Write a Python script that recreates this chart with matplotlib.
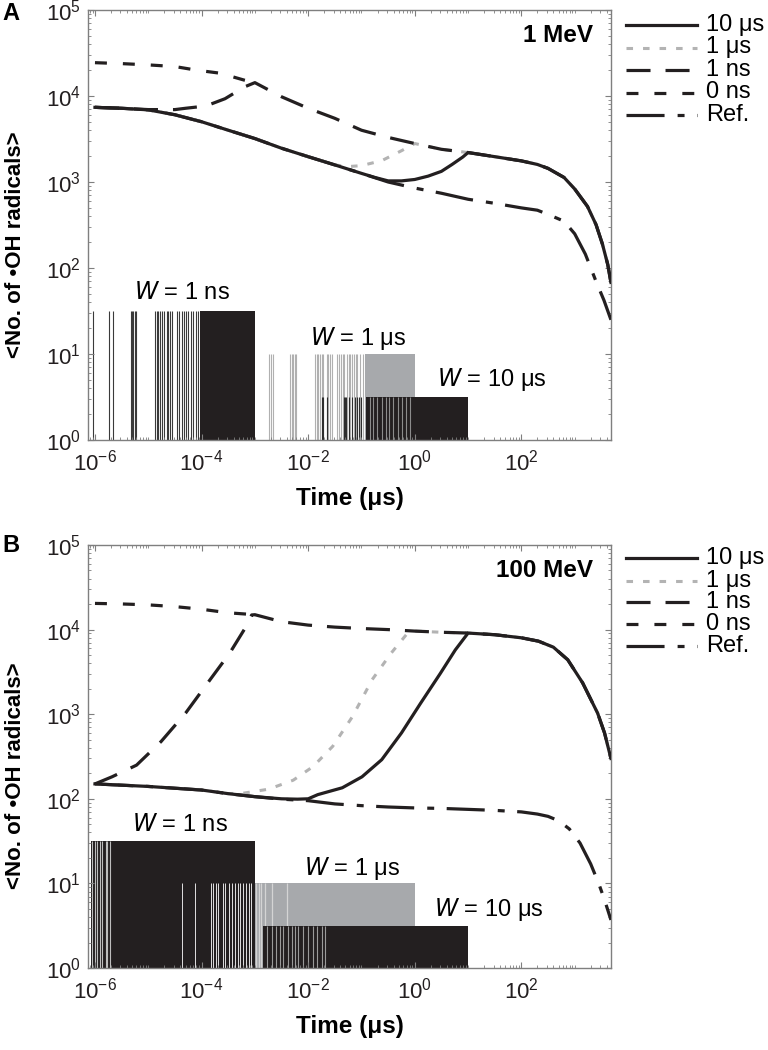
import numpy as np
import matplotlib
matplotlib.use('Agg')
import matplotlib.pyplot as plt
from matplotlib.lines import Line2D
from matplotlib.ticker import LogLocator, NullFormatter

plt.rcParams['font.family'] = ['Liberation Sans', 'DejaVu Sans']
plt.rcParams['mathtext.default'] = 'regular'
plt.rcParams['lines.scale_dashes'] = False

BLACK = '#231f20'
GREY_LINE = '#b3b3b3'
GREY_BAR = '#a7a9ac'

# ---- curves, panel A (1 MeV); x given as log10(time / us) ----
refA_x = [-6.0, -5.5, -5.0, -4.5, -4.0, -3.5, -3.0, -2.5, -2.0, -1.5, -1.0, -0.5, 0.0, 0.5, 1.0,
          1.5, 2.0, 2.3, 2.5, 2.8, 3.0, 3.2, 3.4, 3.55, 3.68]
refA_y = [7380, 7200, 6900, 6050, 5020, 4000, 3200, 2470, 1970, 1580, 1260, 1000, 850, 740, 630,
          565, 500, 470, 420, 350, 250, 145, 70, 42, 25]

ns0A_x = [-6.0, -5.5, -5.0, -4.5, -4.1, -3.65, -3.2, -3.0]
ns0A_y = [24400, 23800, 23000, 22000, 20000, 18400, 15300, 14300]

upperA_x = [-3.0, -2.5, -2.0, -1.5, -1.0, -0.5, 0.0, 0.5, 1.0, 1.5, 2.0, 2.3, 2.5, 2.8, 3.0,
            3.24, 3.4, 3.52, 3.62, 3.68]
upperA_y = [14300, 9800, 7200, 5500, 4000, 3300, 2800, 2400, 2200, 1970, 1760, 1600, 1440, 1130, 830,
            520, 320, 190, 110, 68]

ns1A_x = [-6.0, -5.5, -5.0, -4.5, -4.3, -3.92, -3.56, -3.19] + upperA_x
ns1A_y = [7380, 7200, 6950, 6950, 7200, 7650, 9300, 12800] + upperA_y

us1A_x = refA_x[:10] + [-1.26, -1.0, -0.62, -0.25] + upperA_x[6:]
us1A_y = refA_y[:10] + [1510, 1550, 1770, 2310] + upperA_y[6:]

us10A_x = refA_x[:11] + [-0.75, -0.5, -0.25, 0.0, 0.25, 0.5, 0.7, 0.9] + upperA_x[8:]
us10A_y = refA_y[:11] + [1130, 1030, 1030, 1070, 1170, 1330, 1600, 1950] + upperA_y[8:]

# ---- curves, panel B (100 MeV) ----
refB_x = [-6.0, -5.0, -4.0, -3.5, -3.0, -2.5, -2.0, -1.5, -1.0, -0.5, 0.0, 0.5, 1.0, 1.5, 2.0,
          2.3, 2.5, 2.7, 2.9, 3.1, 3.3, 3.45, 3.56, 3.68]
refB_y = [150, 140, 127, 115, 106, 99, 95, 87, 83, 80, 78, 77, 75, 73, 70,
          66, 62, 55, 44, 30, 17, 10, 6.4, 3.7]

ns0B_x = [-6.0, -5.5, -5.0, -4.5, -4.0, -3.5, -3.0]
ns0B_y = [20400, 20100, 19600, 18700, 17400, 15800, 15000]

upperB_x = [-3.0, -2.5, -2.0, -1.5, -1.0, -0.5, 0.0, 0.5, 1.0, 1.5, 2.0, 2.32, 2.6, 2.87, 3.15,
            3.43, 3.56, 3.68]
upperB_y = [15000, 12400, 11300, 10700, 10300, 10000, 9600, 9300, 9100, 8700, 8000, 7300, 6200, 4400, 2340,
            1030, 600, 300]

ns1B_x = [-6.0, -5.68, -5.22, -4.76, -4.3, -3.84, -3.47, -3.2, -3.06] + upperB_x
ns1B_y = [150, 182, 250, 475, 1030, 2560, 5300, 10000, 14900] + upperB_y

us1B_x = refB_x[:4] + [-3.2, -2.74, -2.28, -1.91, -1.54, -1.17, -0.8, -0.44, -0.16] + upperB_x[6:]
us1B_y = refB_y[:4] + [117, 130, 166, 240, 417, 935, 2560, 5300, 8700] + upperB_y[6:]

us10B_x = refB_x[:5] + [-2.5, -2.2, -2.0, -1.82, -1.36, -0.99, -0.62, -0.25, 0.11, 0.48, 0.76] + upperB_x[8:]
us10B_y = refB_y[:5] + [100, 99, 100, 112, 135, 182, 290, 600, 1350, 3040, 5750] + upperB_y[8:]

# ---- pulse arrival bars (time in us) ----
ns1A_lines = [9.0e-7, 1.84e-6, 2.19e-6, 4.7e-6, 4.9e-6, 5.25e-6, 5.65e-6, 5.9e-6, 1.35e-5, 1.45e-5,
              1.55e-5, 1.69e-5, 1.83e-5, 2.0e-5, 2.22e-5, 2.39e-5, 2.6e-5, 2.83e-5, 3.46e-5, 3.78e-5,
              4.25e-5, 4.65e-5, 5.05e-5, 5.65e-5, 6.35e-5, 7.0e-5, 7.8e-5, 8.7e-5]
ns1A_block = [9.4e-5, 1.0e-3]
us1A_lines = [1.85e-3, 2.0e-3, 2.22e-3, 4.57e-3, 4.9e-3, 5.25e-3, 5.67e-3, 6.0e-3, 1.35e-2, 1.45e-2,
              1.55e-2, 1.66e-2, 1.8e-2, 1.93e-2, 2.23e-2, 2.39e-2, 2.58e-2, 2.77e-2, 3.52e-2, 3.85e-2,
              4.08e-2, 4.45e-2, 4.78e-2, 5.3e-2, 5.78e-2, 6.1e-2, 6.6e-2, 7.3e-2, 7.9e-2, 8.4e-2,
              9.4e-2, 0.105]
us1A_block = [0.117, 1.0]
us10A_lines = [1.8e-2, 1.93e-2, 2.3e-2, 4.6e-2, 4.9e-2, 5.2e-2, 5.9e-2, 6.5e-2, 7.6e-2, 8.1e-2,
               9.1e-2, 0.1]
us10A_block = [0.124, 10.0]
us10A_gaps = [0.145, 0.167, 0.199, 0.24, 0.289, 0.334, 0.396, 0.492, 0.57, 0.687, 0.817]

ns1B_block = [8.5e-7, 1.0e-3]
ns1B_gaps = [8.9e-7, 1.0e-6, 1.08e-6, 1.25e-6, 1.38e-6, 1.6e-6, 1.69e-6, 1.92e-6]
us1B_gaps = [4.37e-5, 7.6e-5, 1.51e-4, 1.67e-4, 1.85e-4, 2.0e-4, 2.56e-4, 2.8e-4, 3.3e-4, 3.7e-4,
             4.15e-4, 4.8e-4, 5.3e-4, 6.1e-4, 6.7e-4, 7.6e-4, 8.3e-4]
us1B_block = [1.0e-3, 1.0]
us1B_light = [1.05e-3, 1.17e-3, 1.3e-3, 1.56e-3, 2.1e-3, 4.0e-3]
us10B_block = [1.44e-3, 10.0]
us10B_gaps = [1.67e-3, 2.08e-3, 2.5e-3, 2.97e-3, 3.4e-3, 4.25e-3, 4.9e-3, 5.7e-3, 6.5e-3, 8.1e-3,
              1.0e-2, 1.25e-2, 1.45e-2, 1.8e-2, 2.08e-2]

bar_heights = {'1 ns': 31.6, '1 us': 10.0, '10 us': 3.16}

legend_labels = ['10 \u03bcs', '1 \u03bcs', '1 ns', '0 ns', 'Ref.']

# styles: (color, linewidth, dashes in points)
styles = {
    '10 us': (BLACK, 2.3, None),
    '1 us': (GREY_LINE, 2.2, (4.7, 7.2)),
    '1 ns': (BLACK, 2.3, (17.3, 10.8)),
    '0 ns': (BLACK, 2.3, (8.6, 11.5)),
    'ref': (BLACK, 2.3, (27.4, 9.4, 5.0, 9.0)),
}


def ls_of(key):
    c, lw, d = styles[key]
    if d is None:
        return dict(color=c, lw=lw, ls='-')
    return dict(color=c, lw=lw, ls=(0, d))


W = 768.0
H = 1050.0
fig = plt.figure(figsize=(7.68, 10.5), dpi=100)
axA = fig.add_axes([88 / W, 1 - 440 / H, 523 / W, 430 / H])
axB = fig.add_axes([88 / W, 1 - 968 / H, 523 / W, 423 / H])


def draw_curves(ax, ref, ns0, us1, ns1, us10):
    for (xs, ys), key, z in [(ref, 'ref', 3), (ns0, '0 ns', 3.1), (us1, '1 us', 3.2),
                             (ns1, '1 ns', 3.3), (us10, '10 us', 3.4)]:
        ax.plot(10.0 ** np.array(xs), ys, zorder=z, **ls_of(key))


def block(ax, span, top, color):
    ax.fill_between(span, 1, top, color=color, lw=0, zorder=1)


def lines(ax, ts, top, color, lw=0.8):
    ax.vlines(ts, 1, top, colors=color, lw=lw, zorder=1.2)


# panel A bars
hn, hu, h10 = bar_heights['1 ns'], bar_heights['1 us'], bar_heights['10 us']
lines(axA, ns1A_lines, hn, '#3a3a3a')
block(axA, ns1A_block, hn, BLACK)
lines(axA, us1A_lines, hu, '#b0b0b0')
block(axA, us1A_block, hu, GREY_BAR)
lines(axA, us10A_lines, h10, '#2e2e2e')
axA.fill_between(us10A_block, 1, h10, color=BLACK, lw=0, zorder=1.3)
axA.vlines(us10A_gaps, 1, h10, colors='#8c8c8c', lw=0.8, zorder=1.4)

# panel B bars
block(axB, ns1B_block, hn, BLACK)
lines(axB, ns1B_gaps, hn, '#bdbdbd')
lines(axB, us1B_gaps, hu, '#e0e0e0', lw=0.7)
block(axB, us1B_block, hu, GREY_BAR)
lines(axB, us1B_light, hu, '#d4d4d4', lw=0.9)
axB.fill_between(us10B_block, 1, h10, color=BLACK, lw=0, zorder=1.3)
axB.vlines(us10B_gaps, 1, h10, colors='#9a9a9a', lw=0.8, zorder=1.4)

draw_curves(axA, (refA_x, refA_y), (ns0A_x, ns0A_y), (us1A_x, us1A_y), (ns1A_x, ns1A_y), (us10A_x, us10A_y))
draw_curves(axB, (refB_x, refB_y), (ns0B_x, ns0B_y), (us1B_x, us1B_y), (ns1B_x, ns1B_y), (us10B_x, us10B_y))

w_labels = [('$\\mathit{W}$ = 1 ns', 10 ** -4.37, 51), ('$\\mathit{W}$ = 1 \u03bcs', 10 ** -1.07, 15.3),
            ('$\\mathit{W}$ = 10 \u03bcs', 10 ** 1.45, 5.0)]
w_labels_B = [('$\\mathit{W}$ = 1 ns', 10 ** -4.40, 49), ('$\\mathit{W}$ = 1 \u03bcs', 10 ** -1.18, 15),
              ('$\\mathit{W}$ = 10 \u03bcs', 10 ** 1.39, 4.9)]

for ax, wl, energy in [(axA, w_labels, '1 MeV'), (axB, w_labels_B, '100 MeV')]:
    ax.set_xscale('log')
    ax.set_yscale('log')
    ax.set_xlim(7.4e-7, 4.8e3)
    ax.set_ylim(1, 1e5)
    ax.set_xticks([1e-6, 1e-4, 1e-2, 1e0, 1e2])
    ax.xaxis.set_minor_locator(LogLocator(base=10, subs=np.arange(1, 10), numticks=30))
    ax.xaxis.set_minor_formatter(NullFormatter())
    ax.set_yticks([1, 10, 100, 1e3, 1e4, 1e5])
    ax.yaxis.set_minor_locator(LogLocator(base=10, subs=np.arange(2, 10), numticks=30))
    ax.yaxis.set_minor_formatter(NullFormatter())
    ax.tick_params(which='both', direction='in', top=True, right=True, colors='#7f7f7f',
                   labelcolor=BLACK, labelsize=16)
    ax.tick_params(which='major', length=4, width=0.8)
    ax.tick_params(which='minor', length=2.5, width=0.6)
    ax.tick_params(axis='x', pad=7)
    ax.tick_params(axis='y', pad=5)
    for s in ax.spines.values():
        s.set_color('#7f7f7f')
        s.set_linewidth(1.0)
    ax.set_xlabel('Time (\u03bcs)', fontsize=17.5, fontweight='bold', labelpad=8)
    ax.set_ylabel('<No. of \u2022OH radicals>', fontsize=16, fontweight='bold')
    ax.yaxis.set_label_coords(-0.118, 0.455)
    for txt, x, y in wl:
        ax.text(x, y, txt, ha='center', va='center', fontsize=17, zorder=5)
    ax.text(0.966, 0.94, energy, transform=ax.transAxes, ha='right', va='center',
            fontsize=17.5, fontweight='bold')

# panel letters
fig.text(2 / W, 1 - 14 / H, 'A', fontsize=17, fontweight='bold', va='center')
fig.text(2 / W, 1 - 545 / H, 'B', fontsize=17, fontweight='bold', va='center')

# keys to the right of each panel
keys = ['10 us', '1 us', '1 ns', '0 ns', 'ref']
for rows in ([25, 47.5, 70, 92.5, 115], [558, 581, 602, 624, 646]):
    for key, lab, yp in zip(keys, legend_labels, rows):
        yf = 1 - yp / H
        fig.add_artist(Line2D([626 / W, 697 / W], [yf, yf], transform=fig.transFigure, **ls_of(key)))
        fig.text(706 / W, yf, lab, fontsize=17, va='center', ha='left')

fig.savefig('out.png', dpi=100)
